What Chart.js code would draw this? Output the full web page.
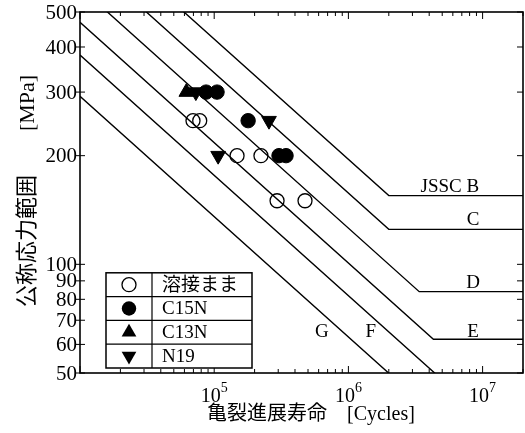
<!DOCTYPE html>
<html>
<head>
<meta charset="utf-8">
<script src="https://cdn.jsdelivr.net/npm/chart.js@4/dist/chart.umd.min.js"></script>
<style>
html,body{margin:0;padding:0;background:#fff;overflow:hidden;}
#wrap{width:525px;height:433px;overflow:hidden;}
canvas{display:block;}
</style>
</head>
<body>
<div id="wrap"><canvas id="c" width="525" height="433"></canvas></div>
<script>
// ---- axis ranges & ticks ----
const xMin = 1e4, xMax = 2e7;
const yMin = 50, yMax = 500;
const xTickValues = [1e5, 1e6, 1e7];
const xTickBase = ['10', '10', '10'];
const xTickExp = ['5', '6', '7'];
const yTickValues = [50, 60, 70, 80, 90, 100, 200, 300, 400, 500];
const yTickLabels = ['50', '60', '70', '80', '90', '100', '200', '300', '400', '500'];
const xTitleJa = '亀裂進展寿命';
const xTitleUnit = '[Cycles]';
const yTitleJa = '公称応力範囲';
const yTitleUnit = '[MPa]';

// ---- design curves (cycles, MPa) ----
const curveNames = ['JSSC B', 'C', 'D', 'E', 'F', 'G'];
const curveB_N = [1e4, 2e6, 2e7];   const curveB_S = [906, 155, 155];
const curveC_N = [1e4, 2e6, 2e7];   const curveC_S = [731, 125, 125];
const curveD_N = [1e4, 3.37e6, 2e7]; const curveD_S = [585, 84, 84];
const curveE_N = [1e4, 4.3e6, 2e7];  const curveE_S = [468, 62, 62];
const curveF_N = [1e4, 5.64e6, 2e7]; const curveF_S = [380, 46, 46];
const curveG_N = [1e4, 7.6e6, 2e7];  const curveG_S = [292, 32, 32];
// label anchor (in data units) for each curve name
const curveLabelN = [5.7e6, 8.5e6, 8.5e6, 8.5e6, 1.47e6, 6.35e5];
const curveLabelS = [164, 133, 89, 65, 65, 65];

// ---- test results ----
const seriesNames = ['溶接まま', 'C15N', 'C13N', 'N19'];
const asWelded_N = [6.95e4, 7.8e4, 1.48e5, 2.23e5, 2.94e5, 4.75e5];
const asWelded_S = [250, 250, 200, 200, 150, 150];
const c15n_N = [8.7e4, 1.05e5, 1.79e5, 3.04e5, 3.43e5];
const c15n_S = [300, 300, 250, 200, 200];
const c13n_N = [6.2e4];
const c13n_S = [300];
const n19_N = [7.3e4, 2.56e5, 1.07e5];
const n19_S = [300, 250, 200];

const SERIF = "'Liberation Serif','Noto Sans CJK JP',serif";
const xy = (ns, ss) => ns.map((n, i) => ({x: n, y: ss[i]}));

const curves = [[curveB_N, curveB_S], [curveC_N, curveC_S], [curveD_N, curveD_S],
                [curveE_N, curveE_S], [curveF_N, curveF_S], [curveG_N, curveG_S]];
const curveSets = curves.map((c, i) => ({
  label: curveNames[i], data: xy(c[0], c[1]), showLine: true,
  borderColor: '#000', borderWidth: 1.4, pointRadius: 0, fill: false, order: 2
}));

const markerStyles = [
  {pointStyle: 'circle', rotation: 0, radius: 7, fill: false},
  {pointStyle: 'circle', rotation: 0, radius: 7.2, fill: true},
  {pointStyle: 'triangle', rotation: 0, radius: 8.5, fill: true},
  {pointStyle: 'triangle', rotation: 180, radius: 8.5, fill: true}
];
const pts = [[asWelded_N, asWelded_S], [c15n_N, c15n_S], [c13n_N, c13n_S], [n19_N, n19_S]];
const pointSets = pts.map((p, i) => ({
  label: seriesNames[i], data: xy(p[0], p[1]), showLine: false,
  pointStyle: markerStyles[i].pointStyle, rotation: markerStyles[i].rotation,
  pointRadius: markerStyles[i].radius,
  backgroundColor: markerStyles[i].fill ? '#000' : 'rgba(0,0,0,0)',
  borderColor: '#000', borderWidth: markerStyles[i].fill ? 1 : 1.3, order: 1
}));

function seg(ctx, x1, y1, x2, y2) { ctx.beginPath(); ctx.moveTo(x1, y1); ctx.lineTo(x2, y2); ctx.stroke(); }

function marker(ctx, st, cx, cy) {
  ctx.save();
  ctx.fillStyle = '#000'; ctx.strokeStyle = '#000'; ctx.lineWidth = 1.3;
  const r = st.radius;
  ctx.beginPath();
  if (st.pointStyle === 'circle') {
    ctx.arc(cx, cy, r, 0, Math.PI * 2);
  } else {
    const d = st.rotation === 180 ? -1 : 1;
    ctx.moveTo(cx, cy - d * r);
    ctx.lineTo(cx + r * Math.sin(2 * Math.PI / 3), cy + d * r / 2);
    ctx.lineTo(cx - r * Math.sin(2 * Math.PI / 3), cy + d * r / 2);
    ctx.closePath();
  }
  if (st.fill) ctx.fill(); else ctx.stroke();
  ctx.restore();
}

const deco = {
  id: 'deco',
  afterDraw(chart) {
    const {ctx, chartArea: a, scales: {x, y}} = chart;
    ctx.save();
    ctx.strokeStyle = '#000';
    ctx.fillStyle = '#000';
    // frame
    ctx.lineWidth = 1.6;
    ctx.strokeRect(a.left, a.top, a.right - a.left, a.bottom - a.top);
    // x ticks (major + minor, inward, top and bottom)
    ctx.lineWidth = 1;
    for (let e = 4; e <= 7; e++) {
      for (let m = 1; m <= 9; m++) {
        const v = m * Math.pow(10, e);
        if (v < xMin || v > xMax) continue;
        const px = x.getPixelForValue(v);
        const len = m === 1 ? 7 : 4;
        seg(ctx, px, a.bottom, px, a.bottom - len);
        seg(ctx, px, a.top, px, a.top + len);
      }
    }
    // y ticks
    yTickValues.forEach(v => {
      const py = y.getPixelForValue(v);
      seg(ctx, a.left - 4, py, a.left + 5, py);
      seg(ctx, a.right, py, a.right - 6, py);
    });
    // y tick labels
    ctx.font = '21px ' + SERIF;
    ctx.textAlign = 'right';
    ctx.textBaseline = 'middle';
    yTickValues.forEach((v, i) => {
      ctx.fillText(yTickLabels[i], a.left - 3, y.getPixelForValue(v) + 1);
    });
    // x tick labels with superscript exponent
    ctx.textBaseline = 'alphabetic';
    xTickValues.forEach((v, i) => {
      const px = x.getPixelForValue(v);
      ctx.font = '20px ' + SERIF;
      const bw = ctx.measureText(xTickBase[i]).width;
      ctx.font = '14px ' + SERIF;
      const ew = ctx.measureText(xTickExp[i]).width;
      const sx = px - (bw + ew) / 2;
      ctx.textAlign = 'left';
      ctx.font = '20px ' + SERIF;
      ctx.fillText(xTickBase[i], sx, a.bottom + 29);
      ctx.font = '14px ' + SERIF;
      ctx.fillText(xTickExp[i], sx + bw, a.bottom + 19);
    });
    // curve labels
    ctx.font = '19px ' + SERIF;
    ctx.textAlign = 'center';
    ctx.textBaseline = 'middle';
    curveNames.forEach((n, i) => {
      ctx.fillText(n, x.getPixelForValue(curveLabelN[i]), y.getPixelForValue(curveLabelS[i]));
    });
    // legend box
    const lx = a.left + 26, lw = 146, rowH = 23.8, lRows = seriesNames.length;
    const lh = rowH * lRows, ly = a.bottom - 5 - lh, div = lx + 46;
    ctx.fillStyle = '#fff';
    ctx.fillRect(lx, ly, lw, lh);
    ctx.lineWidth = 1.5;
    ctx.strokeRect(lx, ly, lw, lh);
    ctx.lineWidth = 1.2;
    for (let r = 1; r < lRows; r++) seg(ctx, lx, ly + r * rowH, lx + lw, ly + r * rowH);
    seg(ctx, div, ly, div, ly + lh);
    ctx.fillStyle = '#000';
    ctx.textAlign = 'left';
    ctx.textBaseline = 'middle';
    ctx.font = '19px ' + SERIF;
    seriesNames.forEach((n, r) => {
      const cy = ly + rowH * r + rowH / 2;
      marker(ctx, markerStyles[r], lx + 23, cy);
      ctx.fillText(n, div + 10, cy + 1);
    });
    // axis titles
    ctx.textBaseline = 'middle';
    ctx.font = '20px ' + SERIF;
    ctx.textAlign = 'center';
    ctx.fillText(xTitleJa + '\u3000' + xTitleUnit, 311, 415);
    ctx.save();
    ctx.translate(28, 191);
    ctx.rotate(-Math.PI / 2);
    ctx.font = '22px ' + SERIF;
    ctx.fillText(yTitleJa + '\u3000\u3000' + yTitleUnit, 0, 0);
    ctx.restore();
    ctx.restore();
  }
};

new Chart(document.getElementById('c'), {
  type: 'scatter',
  data: {datasets: [...pointSets, ...curveSets]},
  options: {
    responsive: false,
    animation: false,
    layout: {autoPadding: false, padding: {top: 12, right: 2, left: 0, bottom: 0}},
    plugins: {legend: {display: false}, tooltip: {enabled: false}, title: {display: false}},
    scales: {
      x: {
        type: 'logarithmic', min: xMin, max: xMax,
        afterBuildTicks: s => { s.ticks = xTickValues.map(v => ({value: v})); },
        afterFit: s => { s.height = 60; },
        grid: {display: false}, border: {display: false},
        ticks: {display: false}
      },
      y: {
        type: 'logarithmic', min: yMin, max: yMax,
        afterBuildTicks: s => { s.ticks = yTickValues.map(v => ({value: v})); },
        afterFit: s => { s.width = 80; },
        grid: {display: false}, border: {display: false},
        ticks: {display: false}
      }
    }
  },
  plugins: [deco]
});
</script>
</body>
</html>
